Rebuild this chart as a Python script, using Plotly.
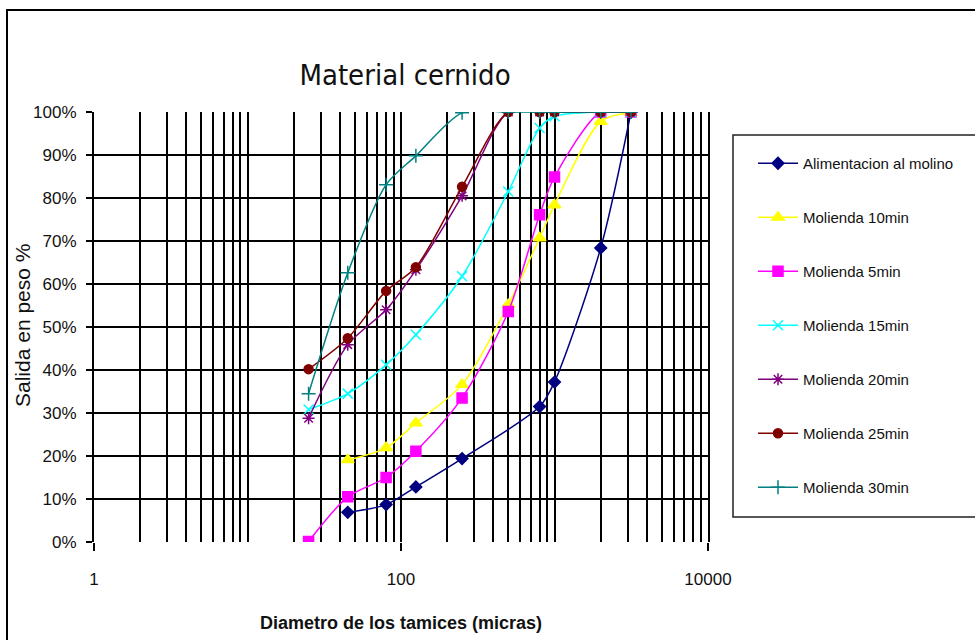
import plotly.graph_objects as go

# ---- data ----
diametros = [25, 45, 80, 125, 250, 500, 800, 1000, 2000, 3150]
alimentacion = [None, 6.9, 8.7, 12.8, 19.4, None, 31.5, 37.2, 68.4, 100.0]
molienda_10 = [None, 19.1, 21.9, 27.7, 36.6, 55.2, 70.7, 78.4, 97.8, 99.8]
molienda_5 = [0.1, 10.5, 15.0, 21.1, 33.5, 53.6, 76.1, 84.9, 100.0, 100.0]
molienda_15 = [30.8, 34.5, 41.2, 48.2, 61.8, 81.5, 96.3, 99.0, 100.0, 100.0]
molienda_20 = [28.8, 45.9, 54.0, 63.3, 80.5, 100.0, 100.0, 100.0, 100.0, 100.0]
molienda_25 = [40.2, 47.4, 58.4, 63.9, 82.6, 100.0, 100.0, 100.0, 100.0, 100.0]
molienda_30 = [34.5, 62.6, 83.1, 89.8, 99.8, 100.0, 100.0, 100.0, 100.0, 100.0]

names = ["Alimentacion al molino", "Molienda 10min", "Molienda 5min", "Molienda 15min",
         "Molienda 20min", "Molienda 25min", "Molienda 30min"]
series = [alimentacion, molienda_10, molienda_5, molienda_15, molienda_20, molienda_25, molienda_30]
colors = ["#000080", "#FFFF00", "#FF00FF", "#00FFFF", "#800080", "#800000", "#008080"]
symbols = ["diamond", "triangle-up", "square", "x-thin-open", "asterisk-open", "circle", "cross-thin-open"]
sizes = [9, 11, 10, 10, 10, 9, 10]

y_ticks = list(range(0, 101, 10))
y_labels = [f"{v}%" for v in y_ticks]
x_major = [1, 100, 10000]
x_major_labels = ["1", "100", "10000"]
x_minor = [m * 10 ** d for d in range(4) for m in range(1, 10)] + [10000]

FONT = "Liberation Sans, Arial, sans-serif"

fig = go.Figure()
for i, (nm, ys) in enumerate(zip(names, series)):
    xs = [x for x, y in zip(diametros, ys) if y is not None]
    yv = [y for y in ys if y is not None]
    fig.add_trace(go.Scatter(
        x=xs, y=yv, name=nm, mode="lines+markers", legendgroup=f"g{i}",
        line=dict(color=colors[i], width=1.5, shape="spline", smoothing=0.8),
        marker=dict(symbol=symbols[i], size=sizes[i], color=colors[i],
                    line=dict(color=colors[i], width=1.5)),
    ))

W, H = 975, 640
L, R, T, B = 94, 708, 112, 542
pw, ph = R - L, B - T

def px(x):
    return (x - L) / pw

def py(y):
    return (B - y) / ph

fig.update_layout(
    width=W, height=H,
    margin=dict(l=L, r=W - R, t=T, b=H - B, pad=0),
    paper_bgcolor="white", plot_bgcolor="white",
    font=dict(family=FONT, color="#111111"),
    title=dict(text="Material cernido", x=405 / W, xanchor="center",
               y=1 - 75 / H, yanchor="middle",
               font=dict(family="DejaVu Sans Condensed, Liberation Sans Narrow, sans-serif",
                         size=29, color="#111111")),
    showlegend=True,
    legend=dict(x=px(753), y=py(147), xanchor="left", yanchor="top",
                bgcolor="rgba(0,0,0,0)", borderwidth=0, tracegroupgap=31.5,
                font=dict(family=FONT, size=15, color="#111111"),
                itemwidth=40),
    xaxis=dict(type="log", range=[0, 4], tickvals=x_major, ticktext=x_major_labels,
               ticks="outside", ticklen=8, tickwidth=2, tickcolor="black",
               showgrid=True, gridcolor="black", gridwidth=2,
               minor=dict(tickvals=x_minor, showgrid=True, gridcolor="black",
                          gridwidth=2, ticks=""),
               showline=False, zeroline=False, ticklabelstandoff=14,
               tickfont=dict(size=17, color="#111111"),
               title=dict(text="<b>Diametro de los tamices (micras)</b>", standoff=27,
                          font=dict(size=18, color="#111111"))),
    yaxis=dict(range=[0, 100], tickvals=y_ticks, ticktext=y_labels,
               ticks="outside", ticklen=6, tickwidth=2, tickcolor="black",
               showgrid=True, gridcolor="black", gridwidth=2,
               showline=True, mirror=True, linecolor="black", linewidth=2,
               zeroline=False, ticklabelstandoff=6,
               tickfont=dict(size=17, color="#111111")),
    annotations=[
        dict(text="Salida en peso %", xref="paper", yref="paper", x=px(22), y=py(326),
             xanchor="center", yanchor="middle", textangle=-90, showarrow=False,
             font=dict(family=FONT, size=21, color="#111111")),
    ],
    shapes=[
        dict(type="rect", xref="paper", yref="paper", x0=px(7), x1=px(W + 20),
             y0=py(H + 20), y1=py(10), line=dict(color="black", width=2), layer="below"),
        dict(type="rect", xref="paper", yref="paper", x0=px(733), x1=px(W + 20),
             y0=py(517), y1=py(135), line=dict(color="#222222", width=1.5), layer="below"),
    ],
)

fig.write_html("out.html")
